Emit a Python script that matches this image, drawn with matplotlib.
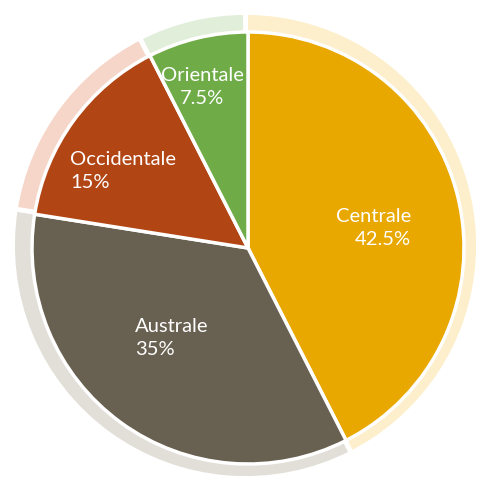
import matplotlib
matplotlib.use("Agg")
import matplotlib.pyplot as plt

categories = ["Centrale", "Australe", "Occidentale", "Orientale"]
values = [42.5, 35, 15, 7.5]
colors = ["#E9A800", "#686050", "#B24514", "#6FAC47"]
ring_colors = ["#FDEFCB", "#E2DFD9", "#F6D6C8", "#E1EEDA"]

fig = plt.figure(figsize=(4.8, 4.8), dpi=100)
ax = fig.add_axes([0, 0, 1, 1])

# outer light ring
ax.pie(values, colors=ring_colors, startangle=90, counterclock=False,
       radius=233, center=(245.5, 234.5),
       wedgeprops=dict(edgecolor="white", linewidth=3.5))
# main pie
ax.pie(values, colors=colors, startangle=90, counterclock=False,
       radius=216, center=(248, 232),
       wedgeprops=dict(edgecolor="white", linewidth=2.5))

ax.set_xlim(0, 480)
ax.set_ylim(0, 480)
ax.set_aspect("equal")
ax.axis("off")

fs = 14.5
font = "Lato"
label_pos = {
    "Centrale": (411, 480 - 228, "right"),
    "Australe": (135, 480 - 338, "left"),
    "Occidentale": (70, 480 - 171, "left"),
    "Orientale": (202, 480 - 87, "center"),
}
for cat, val in zip(categories, values):
    x, y, ha = label_pos[cat]
    txt = f"{cat}\n{val:g}%"
    ax.text(x, y, txt, ha=ha, va="center", color="white", fontsize=fs,
            family=font, weight="normal", multialignment=ha, linespacing=1.45)

fig.savefig("out.png", dpi=100)
